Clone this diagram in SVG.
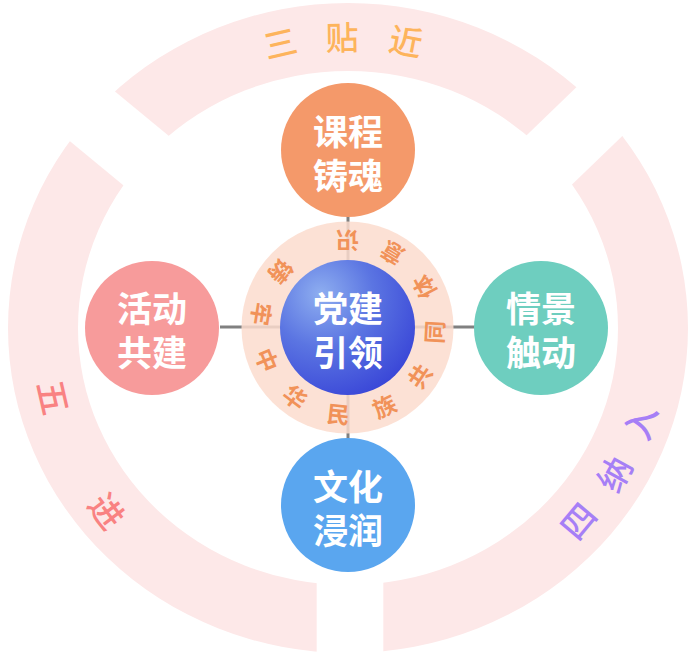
<svg xmlns="http://www.w3.org/2000/svg" width="695" height="656" viewBox="0 0 695 656">
<style>
.cjk{font-family:"Noto Sans CJK SC","Noto Sans CJK JP",sans-serif;font-weight:700;text-anchor:middle;dominant-baseline:central}
.node-t{fill:#ffffff;font-size:35px}
.ring-t{fill:#F19259;font-size:23px}
.out-top{fill:#FDB45C;font-size:33px;font-weight:500}
.out-left{fill:#F98282;font-size:34px;font-weight:500}
.out-right{fill:#A67FF6;font-size:34px;font-weight:500}
.conn{stroke:#808080;stroke-width:3;fill:none}
</style>
<defs>
<mask id="gapMask" maskUnits="userSpaceOnUse" x="0" y="0" width="695" height="656">
<rect x="0" y="0" width="695" height="656" fill="#fff"/>
<rect x="316.7" y="480" width="66.6" height="200" fill="#000"/>
<rect x="-100" y="-33.5" width="200" height="67" fill="#000" transform="translate(90.8 115) rotate(39.5)"/>
<rect x="-100" y="-33.5" width="200" height="67" fill="#000" transform="translate(599.7 111.3) rotate(136)"/>
</mask>
<radialGradient id="blueGrad" cx="0.32" cy="0.28" r="0.85" fx="0.3" fy="0.25">
<stop offset="0" stop-color="#8EAEF0"/>
<stop offset="0.45" stop-color="#5B75E2"/>
<stop offset="1" stop-color="#3540D6"/>
</radialGradient>
</defs>
<rect width="695" height="656" fill="#ffffff"/>
<g id="outer-ring">
<path d="M8 328A340 325 0 1 0 688 328A340 325 0 1 0 8 328ZM78 328A270 257 0 1 0 618 328A270 257 0 1 0 78 328Z" fill="#FDE8E8" fill-rule="evenodd" mask="url(#gapMask)"/>
<text class="cjk out-top" transform="translate(280 42) rotate(-13)">三</text>
<text class="cjk out-top" transform="translate(342 36) rotate(-1)">贴</text>
<text class="cjk out-top" transform="translate(406 40) rotate(11)">近</text>
<text class="cjk out-left" transform="translate(55 397) rotate(77)">五</text>
<text class="cjk out-left" transform="translate(108 510) rotate(53)">进</text>
<text class="cjk out-right" transform="translate(639 422) rotate(-72)">入</text>
<text class="cjk out-right" transform="translate(613 473) rotate(-61)">纳</text>
<text class="cjk out-right" transform="translate(577 520) rotate(-50)">四</text>
</g>
<g id="connectors">
<line class="conn" x1="220" y1="327" x2="476" y2="327"/>
<line class="conn" x1="348" y1="214" x2="348" y2="441"/>
</g>
<g id="inner-ring">
<circle cx="347.5" cy="327.5" r="106" fill="#FCDCCE" fill-opacity="0.85"/>
<text class="cjk ring-t" transform="translate(347.5 241.5) rotate(-180)">识</text>
<text class="cjk ring-t" transform="translate(391.8 253.8) rotate(-149)">意</text>
<text class="cjk ring-t" transform="translate(423.4 287.2) rotate(-118)">体</text>
<text class="cjk ring-t" transform="translate(433.4 332) rotate(-87)">同</text>
<text class="cjk ring-t" transform="translate(418.8 375.6) rotate(-56)">共</text>
<text class="cjk ring-t" transform="translate(383.9 405.4) rotate(-25)">族</text>
<text class="cjk ring-t" transform="translate(338.5 413) rotate(6)">民</text>
<text class="cjk ring-t" transform="translate(295.7 396.2) rotate(37)">华</text>
<text class="cjk ring-t" transform="translate(267.8 359.7) rotate(68)">中</text>
<text class="cjk ring-t" transform="translate(262.5 314.1) rotate(99)">牢</text>
<text class="cjk ring-t" transform="translate(281.6 272.2) rotate(130)">铸</text>
</g>
<g id="node-center">
<circle cx="347.5" cy="327.5" r="67.5" fill="url(#blueGrad)"/>
<text class="cjk node-t"><tspan x="348" y="306">党建</tspan><tspan x="348" y="350">引领</tspan></text>
</g>
<g id="node-top">
<circle cx="348" cy="150" r="67" fill="#F4996A"/>
<text class="cjk node-t"><tspan x="348" y="129">课程</tspan><tspan x="348" y="173">铸魂</tspan></text>
</g>
<g id="node-left">
<circle cx="152" cy="328" r="67" fill="#F79B9B"/>
<text class="cjk node-t"><tspan x="152" y="306">活动</tspan><tspan x="152" y="350">共建</tspan></text>
</g>
<g id="node-right">
<circle cx="541" cy="328" r="67" fill="#6ECEBF"/>
<text class="cjk node-t"><tspan x="541" y="306">情景</tspan><tspan x="541" y="350">触动</tspan></text>
</g>
<g id="node-bottom">
<circle cx="348" cy="505" r="67" fill="#5AA6EF"/>
<text class="cjk node-t"><tspan x="348" y="484">文化</tspan><tspan x="348" y="528">浸润</tspan></text>
</g>
</svg>
